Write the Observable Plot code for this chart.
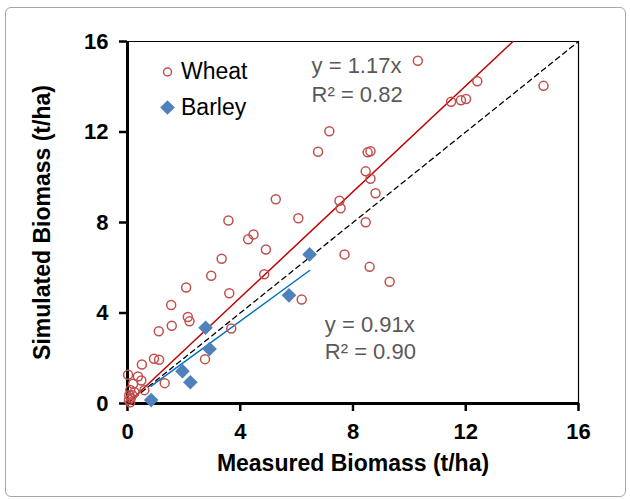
<!DOCTYPE html>
<html><head><meta charset="utf-8">
<script src="https://cdn.jsdelivr.net/npm/d3@7"></script>
<script src="https://cdn.jsdelivr.net/npm/@observablehq/plot@0.6"></script>
<style>
body{margin:0;background:#fff;}
#wrap{position:relative;width:630px;height:499px;overflow:hidden;}
#wrap svg{position:absolute;left:0;top:0;}
#border{position:absolute;left:5px;top:7px;width:619px;height:488px;border:1.5px solid #a6a6a6;border-radius:6px;pointer-events:none;}
</style></head><body><div id="wrap"><div id="border"></div></div>
<script>
const seriesNames = ["Wheat", "Barley"];
const wheatMeasured = [10.30,12.41,14.76,11.48,11.83,12.01,7.16,6.76,8.52,8.62,8.45,8.62,8.80,5.26,7.52,7.56,3.58,6.06,8.45,4.28,4.47,4.91,3.34,7.70,2.97,4.85,8.59,2.08,3.61,9.30,6.18,1.55,2.14,2.20,1.57,3.68,1.11,0.94,1.12,2.75,0.51,0.02,0.37,0.49,1.32,0.60,0.20,0.10,0.06,0.17,0.05,0.10,0.25,0.12];
const wheatSimulated = [15.15,14.24,14.04,13.34,13.40,13.46,12.03,11.13,11.10,11.15,10.26,9.93,9.29,9.03,8.96,8.63,8.09,8.19,8.01,7.26,7.47,6.81,6.40,6.59,5.65,5.71,6.04,5.13,4.87,5.38,4.60,4.35,3.82,3.63,3.44,3.31,3.19,1.98,1.93,1.96,1.72,1.27,1.19,1.02,0.90,0.59,0.87,0.60,0.37,0.37,0.15,0.05,0.50,0.25];
const barleyMeasured = [0.84,1.95,2.23,2.77,2.91,5.73,6.46];
const barleySimulated = [0.15,1.43,0.94,3.35,2.41,4.78,6.59];
const fitSlopes = [1.17, 0.91];
const fitR2 = ["0.82", "0.90"];
const tickValues = [0, 4, 8, 12, 16];
const axisMax = 16;
const xTitle = "Measured Biomass (t/ha)";
const yTitle = "Simulated Biomass (t/ha)";

const wheat = wheatMeasured.map((x, i) => ({x, y: wheatSimulated[i]}));
const barley = barleyMeasured.map((x, i) => ({x, y: barleySimulated[i]}));
const wheatEnd = Math.min(d3.max(wheatMeasured), axisMax / fitSlopes[0]);
const wheatFit = [0, wheatEnd].map(x => ({x, y: fitSlopes[0] * x}));
const bExt = d3.extent(barleyMeasured);
const barleyFit = bExt.map(x => ({x, y: fitSlopes[1] * x}));
const oneToOne = [0, axisMax].map(v => ({x: v, y: v}));

const FONT = "Liberation Sans, Arial, Helvetica, sans-serif";
const gray = "#595959";

const chart = Plot.plot({
  width: 630, height: 499,
  marginLeft: 127, marginRight: 52, marginTop: 41, marginBottom: 96,
  style: {fontFamily: FONT, background: "transparent", overflow: "visible"},
  x: {domain: [0, axisMax], ticks: tickValues},
  y: {domain: [0, axisMax], ticks: tickValues},
  marks: [
    Plot.axisX({ticks: tickValues, tickSize: 8, tickPadding: 12, fontSize: 22, fontWeight: "bold", strokeWidth: 2.5, label: null, fill: "#000"}),
    Plot.axisY({ticks: tickValues, tickSize: 8, tickPadding: 11, fontSize: 22, fontWeight: "bold", strokeWidth: 2.5, label: null, fill: "#000"}),
    Plot.ruleY([axisMax], {stroke: "#000", strokeWidth: 1.2}),
    Plot.ruleX([axisMax], {stroke: "#000", strokeWidth: 1.2}),
    Plot.ruleY([0], {stroke: "#000", strokeWidth: 3}),
    Plot.ruleX([0], {stroke: "#000", strokeWidth: 3}),
    Plot.line(oneToOne, {x: "x", y: "y", stroke: "#000", strokeWidth: 1.3, strokeDasharray: "5,4"}),
    Plot.line(wheatFit, {x: "x", y: "y", stroke: "#C00000", strokeWidth: 1.5}),
    Plot.line(barleyFit, {x: "x", y: "y", stroke: "#0070C0", strokeWidth: 1.5}),
    Plot.dot(wheat, {x: "x", y: "y", r: 4.5, stroke: "#C0504D", strokeWidth: 1.5, fill: "none"}),
    Plot.dot(barley, {x: "x", y: "y", r: 6.6, symbol: "diamond2", fill: "#4F81BD", stroke: "none"}),
    // legend
    Plot.dot([seriesNames[0]], {frameAnchor: "top-left", dx: 40, dy: 30.5, r: 4, stroke: "#C0504D", strokeWidth: 1.5, fill: "none"}),
    Plot.dot([seriesNames[1]], {frameAnchor: "top-left", dx: 40, dy: 66, r: 6.6, symbol: "diamond2", fill: "#4F81BD"}),
    Plot.text([seriesNames[0]], {text: d => d, frameAnchor: "top-left", dx: 53.5, dy: 30.5, textAnchor: "start", lineAnchor: "middle", fontSize: 23, fill: "#000"}),
    Plot.text([seriesNames[1]], {text: d => d, frameAnchor: "top-left", dx: 53.5, dy: 66, textAnchor: "start", lineAnchor: "middle", fontSize: 23, fill: "#000"}),
    // fit annotations
    Plot.text([`y = ${fitSlopes[0]}x`], {text: d => d, x: 6.53, y: 14.9, textAnchor: "start", lineAnchor: "middle", fontSize: 22, fill: gray}),
    Plot.text([`R² = ${fitR2[0]}`], {text: d => d, x: 6.53, y: 13.63, textAnchor: "start", lineAnchor: "middle", fontSize: 22, fill: gray}),
    Plot.text([`y = ${fitSlopes[1]}x`], {text: d => d, x: 7.0, y: 3.45, textAnchor: "start", lineAnchor: "middle", fontSize: 22, fill: gray}),
    Plot.text([`R² = ${fitR2[1]}`], {text: d => d, x: 7.0, y: 2.30, textAnchor: "start", lineAnchor: "middle", fontSize: 22, fill: gray}),
    // axis titles
    Plot.text([xTitle], {text: d => d, frameAnchor: "bottom", dy: 60, textAnchor: "middle", lineAnchor: "middle", fontSize: 23, fontWeight: "bold", fill: "#000"}),
    Plot.text([yTitle], {text: d => d, frameAnchor: "left", dx: -85, rotate: -90, textAnchor: "middle", lineAnchor: "middle", fontSize: 23, fontWeight: "bold", fill: "#000"})
  ]
});
document.getElementById("wrap").prepend(chart);
</script>
</body></html>
